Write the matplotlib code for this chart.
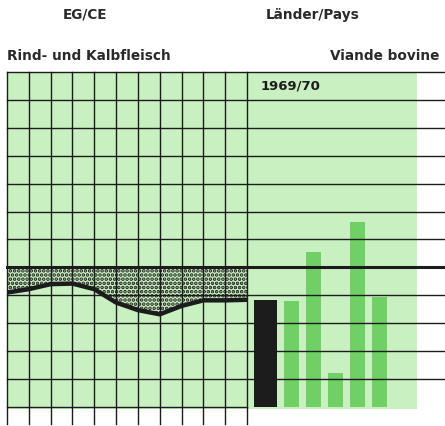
import matplotlib
matplotlib.use('Agg')
import matplotlib.pyplot as plt

# EG/CE index curve, 12 points along the left grid
eg_curve = [4.10, 4.22, 4.40, 4.42, 4.22, 3.74, 3.47, 3.32, 3.62, 3.82, 3.82, 3.84]
base_level = 5.0

# 1969/70 bars: EG/CE first, then the member countries
bar_names = ['EG/CE', 'D', 'F', 'I', 'NL', 'UEBL']
bar_values = [3.85, 3.79, 5.54, 1.21, 6.62, 3.93]

light_green = '#c8f0c0'
bar_green = '#70d066'
ink = '#1c1c1c'

fig = plt.figure(figsize=(4.45, 4.27), dpi=100)
ax = fig.add_axes([7 / 445, 2 / 427, 438 / 445, 352 / 427])
ax.set_xlim(0, 20.07)
ax.set_ylim(-0.61, 12)
ax.axis('off')

n_cols = len(eg_curve) - 1
x_curve = list(range(len(eg_curve)))

# background panels
ax.fill_between([0, n_cols], -0.07, 12, color=light_green, lw=0, zorder=0)
ax.fill_between([n_cols, 18.79], -0.07, 12, color=light_green, lw=0, zorder=0)

# stippled area between base line and curve
plt.rcParams['hatch.linewidth'] = 1.8
ax.fill_between(x_curve, base_level, eg_curve, facecolor=light_green,
                edgecolor=ink, hatch='....', linewidth=0, zorder=1)
ax.plot(x_curve, eg_curve, color=ink, lw=3.2, solid_capstyle='butt', zorder=4)

# bars
green_w = 0.72
xs = [11.85] + [13.03 + 1.01 * i for i in range(len(bar_values) - 1)]
colors = [ink] + [bar_green] * (len(bar_values) - 1)
widths = [1.04] + [green_w] * (len(bar_values) - 1)
ax.bar(xs, bar_values, width=widths, color=colors, zorder=2)

# grid
for x in x_curve:
    ax.plot([x, x], [-0.61, 12], color=ink, lw=1.0, zorder=3, clip_on=False)
for y in range(1, 13):
    ax.plot([0, 20.07], [y, y], color=ink, lw=1.0, zorder=3, clip_on=False)
ax.plot([0, n_cols], [0, 0], color=ink, lw=1.0, zorder=3, clip_on=False)
ax.plot([0, 20.07], [base_level, base_level], color=ink, lw=2.2, zorder=3, clip_on=False)

# labels
title_kw = dict(fontsize=9.8, fontweight='bold', family='DejaVu Sans', color='#2a2a2a')
fig.text(85.5 / 445, 1 - 15 / 427, 'EG/CE', ha='center', va='center', **title_kw)
fig.text(312.5 / 445, 1 - 15 / 427, 'Länder/Pays', ha='center', va='center', **title_kw)
fig.text(7 / 445, 1 - 56 / 427, 'Rind- und Kalbfleisch', ha='left', va='center', **title_kw)
fig.text(439 / 445, 1 - 56 / 427, 'Viande bovine', ha='right', va='center', **title_kw)
ax.text(11.6, 11.55, '1969/70', ha='left', va='center', fontsize=9.5,
        fontweight='bold', family='DejaVu Sans', color=ink, zorder=5)

fig.savefig('out.png', dpi=100)
